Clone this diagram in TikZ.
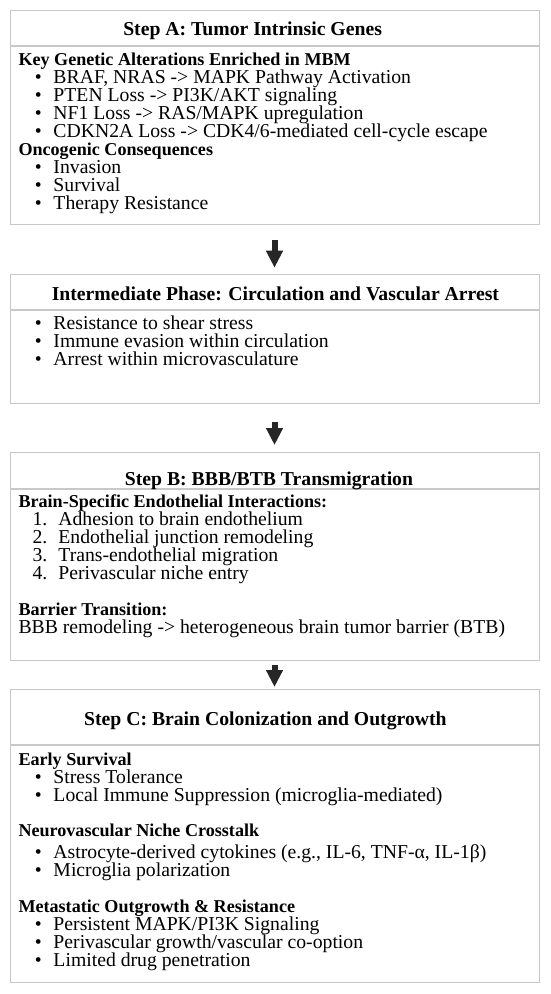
\documentclass[tikz,border=0pt]{standalone}
\usepackage{fontspec}
\setmainfont{Liberation Serif}
\usetikzlibrary{positioning,arrows.meta}

\definecolor{framegray}{RGB}{200,200,200}
\definecolor{arrowgray}{RGB}{38,38,38}

\tikzset{
  frame/.style={draw=framegray, line width=1pt, minimum width=529pt, inner sep=0pt},
  title/.style={font=\fontsize{19.7}{18}\selectfont\bfseries, anchor=base, inner sep=0pt},
  bodytext/.style={font=\fontsize{19.7}{18}\selectfont, align=left, anchor=north west, inner sep=0pt},
  flow/.style={arrowgray, line width=6pt, -{Triangle[width=16pt,length=17pt]}}
}
\newcommand{\subhd}[1]{{\fontsize{18.1}{18}\selectfont\bfseries #1}}
\newcommand{\bul}{\hspace*{16.4pt}\makebox[18.6pt][l]{\textbullet}}
\newcommand{\stepno}[1]{\hspace*{14pt}\makebox[21pt][l]{#1.}}

\begin{document}
\begin{tikzpicture}[x=1pt,y=1pt]
\useasboundingbox (0,0) rectangle (550,-994);

% Step A
\node[frame, minimum height=34.5pt, anchor=north] (headA) at (274.5,-10) {};
\node[frame, minimum height=178.2pt, below=0pt of headA] (bodyA) {};
\node[title] (titleA) at (252.6,-35) {Step A: Tumor Intrinsic Genes};
\node[bodytext] (textA) at (18.3,-52.6) {%
\subhd{Key Genetic Alterations Enriched in MBM}\\
\bul BRAF, NRAS -> MAPK Pathway Activation\\
\bul PTEN Loss -> PI3K/AKT signaling\\
\bul NF1 Loss -> RAS/MAPK upregulation\\
\bul CDKN2A Loss -> CDK4/6-mediated cell-cycle escape\\
\subhd{Oncogenic Consequences}\\
\bul Invasion\\
\bul Survival\\
\bul Therapy Resistance};

% intermediate phase
\node[frame, minimum height=35pt, anchor=north] (headM) at (274.5,-274) {};
\node[frame, minimum height=92.7pt, below=0pt of headM] (bodyM) {};
\node[title] (titleM) at (275.4,-300) {Intermediate Phase: Circulation and Vascular Arrest};
\node[bodytext] (textM) at (18.3,-315.8) {%
\bul Resistance to shear stress\\
\bul Immune evasion within circulation\\
\bul Arrest within microvasculature};

% Step B
\node[frame, minimum height=36.6pt, anchor=north] (headB) at (274.5,-451.7) {};
\node[frame, minimum height=170.7pt, below=0pt of headB] (bodyB) {};
\node[title] (titleB) at (269,-485) {Step B: BBB/BTB Transmigration};
\node[bodytext] (textB) at (18.3,-494.3) {%
\subhd{Brain-Specific Endothelial Interactions:}\\
\stepno{1} Adhesion to brain endothelium\\
\stepno{2} Endothelial junction remodeling\\
\stepno{3} Trans-endothelial migration\\
\stepno{4} Perivascular niche entry\\[18pt]
\subhd{Barrier Transition:}\\
BBB remodeling -> heterogeneous brain tumor barrier (BTB)};

% Step C
\node[frame, minimum height=54.9pt, anchor=north] (headC) at (274.5,-689.3) {};
\node[frame, minimum height=236.8pt, below=0pt of headC] (bodyC) {};
\node[title] (titleC) at (265.4,-725) {Step C: Brain Colonization and Outgrowth};
\node[bodytext] (textC) at (18.3,-752.6) {%
\subhd{Early Survival}\\
\bul Stress Tolerance\\
\bul Local Immune Suppression (microglia-mediated)\\[17pt]
\subhd{Neurovascular Niche Crosstalk}\\[4.6pt]
\bul Astrocyte-derived cytokines (e.g., IL-6, TNF-α, IL-1β)\\
\bul Microglia polarization\\[17.6pt]
\subhd{Metastatic Outgrowth \& Resistance}\\
\bul Persistent MAPK/PI3K Signaling\\
\bul Perivascular growth/vascular co-option\\
\bul Limited drug penetration};

% arrows between the steps
\draw[flow, shorten <=15.3pt, shorten >=6.3pt] (bodyA) -- (headM);
\draw[flow, shorten <=18pt, shorten >=6.7pt] (bodyM) -- (headB);
\draw[flow, shorten <=4pt, shorten >=2.3pt] (bodyB) -- (headC);
\end{tikzpicture}
\end{document}
